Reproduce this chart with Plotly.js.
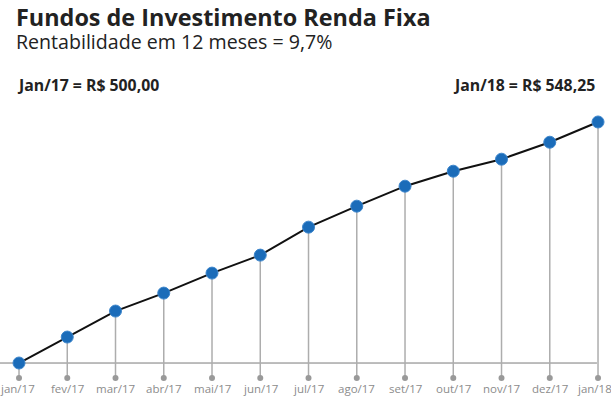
<!DOCTYPE html>
<html>
<head>
<meta charset="utf-8">
<script src="https://cdn.plot.ly/plotly-3.0.1.min.js"></script>
<style>html,body{margin:0;padding:0;background:#fff;}#chart{width:611px;height:397px;}</style>
</head>
<body>
<div id="chart"></div>
<script>
var months = ["jan/17","fev/17","mar/17","abr/17","mai/17","jun/17","jul/17","ago/17","set/17","out/17","nov/17","dez/17","jan/18"];
var values = [500.0, 505.2, 510.4, 514.0, 518.0, 521.6, 527.2, 531.4, 535.4, 538.4, 540.8, 544.2, 548.25];
var stemBase = 497.0;
var baseValue = 500.0;

var idx = months.map(function(m,i){return i;});

var stemX = [], stemY = [];
idx.forEach(function(i){ stemX.push(i,i,null); stemY.push(stemBase, values[i], null); });

var traces = [
  {x: stemX, y: stemY, mode:'lines', line:{color:'#adadad', width:1.5}, hoverinfo:'skip', showlegend:false},
  {x: idx, y: idx.map(function(){return stemBase;}), mode:'markers', marker:{color:'#999999', size:6, symbol:'circle'}, hoverinfo:'skip', showlegend:false, cliponaxis:false},
  {x: idx, y: values, mode:'lines+markers', line:{color:'#111111', width:2},
   marker:{color:'#1b6cb9', size:12, line:{color:'#3d86cc', width:1}}, showlegend:false, cliponaxis:false}
];

var font = "'Open Sans', sans-serif";
var tickAnn = idx.map(function(i){
  var last = (i === idx.length-1);
  return {text: months[i], xref:'x', yref:'y', x:i, y:stemBase, xanchor:'center', yanchor:'middle',
          yshift:-10.5, xshift: last ? -3.5 : (i===0 ? -2 : 0), showarrow:false, font:{family:font, size:11.5, color:'#8c8c8c'}};
});

var titleText = '<b><span style="font-size:23.4px">Fundos de Investimento Renda Fixa</span></b><br>' +
                '<span style="font-size:19.6px">Rentabilidade em 12 meses = 9,7%</span>';

var layout = {
  width:611, height:397,
  margin:{l:0, r:0, t:0, b:17},
  paper_bgcolor:'#ffffff', plot_bgcolor:'#ffffff',
  font:{family:font},
  xaxis:{range:[-0.394, 12.269], showgrid:false, zeroline:false, showline:false, showticklabels:false, ticks:'', fixedrange:true},
  yaxis:{range:[496.6, 572.67], showgrid:false, zeroline:false, showline:false, showticklabels:false, ticks:'', fixedrange:true},
  shapes:[{type:'line', xref:'paper', x0:0, x1:0.977, yref:'y', y0:baseValue, y1:baseValue, line:{color:'#7a7a7a', width:1}, layer:'below'}],
  annotations:[
    {text:titleText, xref:'paper', yref:'paper', x:0.024, y:1.0, xanchor:'left', yanchor:'top', align:'left', showarrow:false, borderpad:0, font:{family:font, size:17.7, color:'#222222'}},
    {text:'<b>Jan/17 = R$ 500,00</b>', xref:'paper', yref:'paper', x:0.026, y:0.775, xanchor:'left', yanchor:'middle', showarrow:false, borderpad:0, font:{family:font, size:15.8, color:'#222222'}},
    {text:'<b>Jan/18 = R$ 548,25</b>', xref:'paper', yref:'paper', x:0.975, y:0.775, xanchor:'right', yanchor:'middle', showarrow:false, borderpad:0, font:{family:font, size:15.8, color:'#222222'}}
  ].concat(tickAnn)
};
Plotly.newPlot('chart', traces, layout, {displayModeBar:false, staticPlot:true});
</script>
</body>
</html>
